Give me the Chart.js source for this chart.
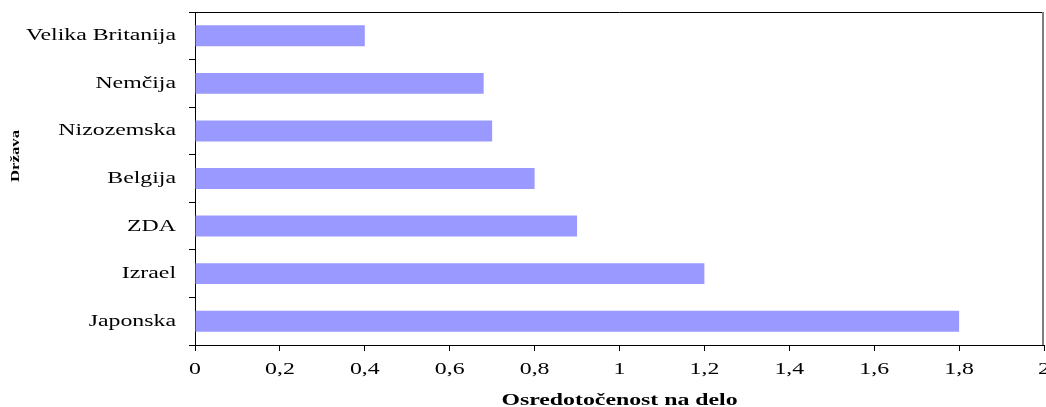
<!DOCTYPE html>
<html>
<head>
<meta charset="utf-8">
<script src="https://cdn.jsdelivr.net/npm/chart.js@4.4.1/dist/chart.umd.min.js"></script>
<style>
  html, body { margin: 0; padding: 0; background: #fff; }
  #wrap { width: 1046px; height: 407px; }
</style>
</head>
<body>
<div id="wrap"><canvas id="graf"></canvas></div>
<script>
// podatki grafa
const drzave = ['Velika Britanija', 'Nemčija', 'Nizozemska', 'Belgija', 'ZDA', 'Izrael', 'Japonska'];
const vrednosti = [0.4, 0.68, 0.7, 0.8, 0.9, 1.2, 1.8];
const xMin = 0;
const xMax = 2;
const xKorak = 0.2;
const naslovX = 'Osredotočenost na delo';
const naslovY = 'Država';

const pisava = "'Liberation Serif', 'Times New Roman', serif";
const rozteg = 1.4; // original ima vodoravno raztegnjeno pisavo

const platno = document.getElementById('graf');
const c2d = platno.getContext('2d');

// vse besedilo rišemo vodoravno raztegnjeno, kot v originalu
const origFill = c2d.fillText;
c2d.fillText = function (t, x, y) {
    this.save();
    this.translate(x, y);
    this.scale(rozteg, 1);
    origFill.call(this, t, 0, 0);
    this.restore();
};

// okvir ob zgornjem in desnem robu + naslov osi y
const okvir = {
    id: 'okvir',
    afterDraw(chart) {
        const a = chart.chartArea;
        const ctx = chart.ctx;
        ctx.save();
        ctx.lineWidth = 1;
        ctx.strokeStyle = '#000';
        ctx.beginPath();
        ctx.moveTo(a.left, a.top + 0.5);
        ctx.lineTo(a.right, a.top + 0.5);
        ctx.stroke();
        ctx.strokeStyle = '#808080';
        ctx.lineWidth = 2;
        ctx.beginPath();
        ctx.moveTo(a.right - 1, a.top);
        ctx.lineTo(a.right - 1, a.bottom);
        ctx.stroke();

        // naslov osi y (navpično)
        ctx.translate(16, 156);
        ctx.rotate(-Math.PI / 2);
        ctx.font = 'bold 12px ' + pisava;
        ctx.fillStyle = '#000';
        ctx.textAlign = 'center';
        ctx.textBaseline = 'middle';
        ctx.fillText(naslovY, 0, 0);
        ctx.restore();
    }
};

new Chart(platno, {
    type: 'bar',
    data: {
        labels: drzave,
        datasets: [{
            data: vrednosti,
            backgroundColor: '#9999FF',
            borderWidth: 0,
            barPercentage: 0.44,
            categoryPercentage: 1
        }]
    },
    options: {
        indexAxis: 'y',
        responsive: true,
        maintainAspectRatio: false,
        animation: false,
        layout: { padding: { top: 12, right: 2, left: 0, bottom: 0 } },
        plugins: {
            legend: { display: false },
            tooltip: { enabled: false }
        },
        scales: {
            x: {
                min: xMin,
                max: xMax,
                afterFit(scale) {
                    scale.height = 62;
                    scale.paddingLeft = 0;
                    scale.paddingRight = 0;
                },
                ticks: {
                    stepSize: xKorak,
                    color: '#000',
                    font: { family: pisava, size: 17 },
                    padding: 8,
                    maxRotation: 0,
                    autoSkip: false,
                    callback: function (v) {
                        return (Math.round(v * 10) / 10).toString().replace('.', ',');
                    }
                },
                grid: { drawOnChartArea: false, color: '#000', tickLength: 6 },
                border: { color: '#000', width: 1 },
                title: {
                    display: true,
                    text: naslovX,
                    color: '#000',
                    font: { family: pisava, size: 17, weight: 'bold' },
                    padding: { top: 0, bottom: -4 }
                }
            },
            y: {
                afterFit(scale) {
                    scale.width = 195;
                    scale.paddingTop = 0;
                    scale.paddingBottom = 0;
                },
                ticks: {
                    color: '#000',
                    font: { family: pisava, size: 17 },
                    padding: 13
                },
                grid: { drawOnChartArea: false, color: '#000', tickLength: 6 },
                border: { color: '#000', width: 1 }
            }
        }
    },
    plugins: [okvir]
});
</script>
</body>
</html>
